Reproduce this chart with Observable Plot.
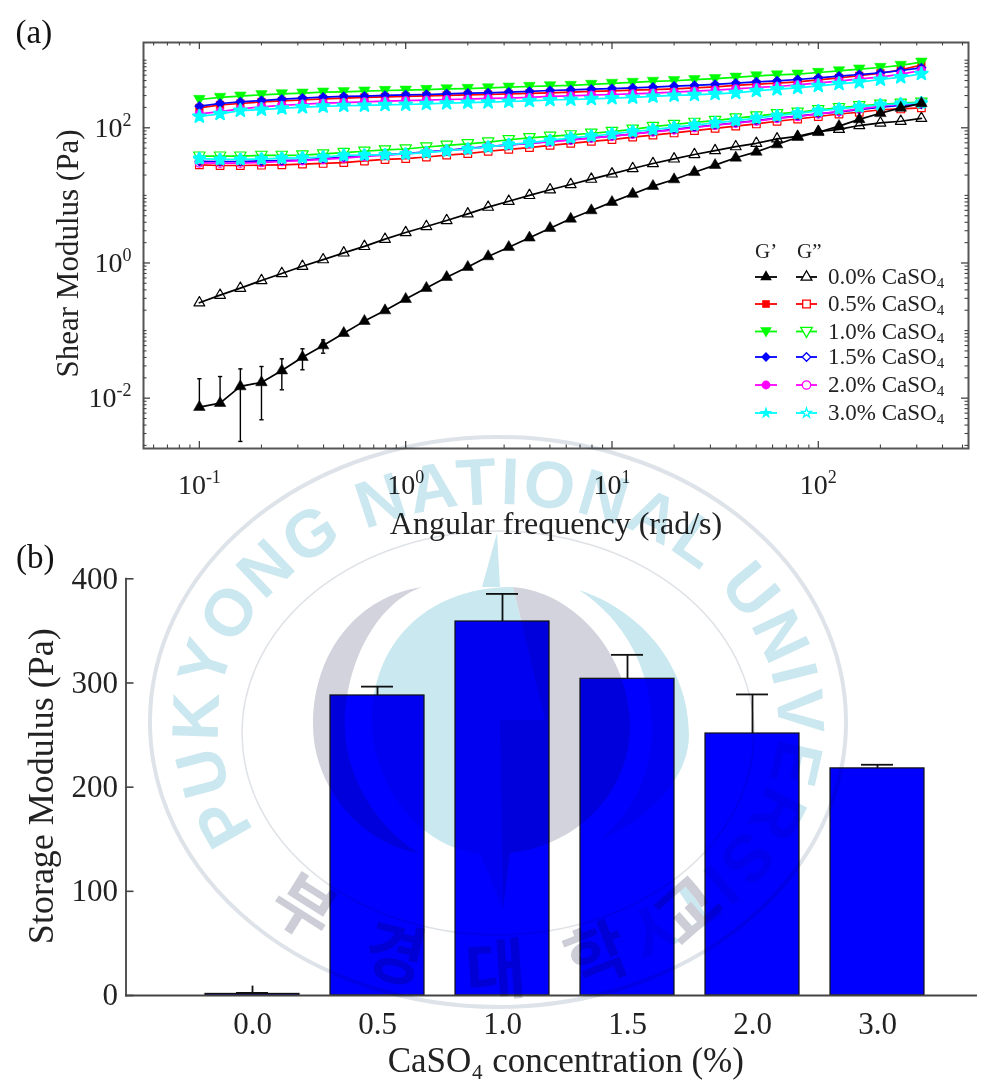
<!DOCTYPE html>
<html>
<head>
<meta charset="utf-8">
<script src="https://cdn.jsdelivr.net/npm/d3@7"></script>
<script src="https://cdn.jsdelivr.net/npm/@observablehq/plot@0.6"></script>
<style>
html,body{margin:0;padding:0;background:#fff;}
#page{position:relative;width:992px;height:1083px;overflow:hidden;font-family:"Liberation Serif",serif;color:#222;}
#page svg{position:absolute;left:0;display:block;background:transparent;}
#watermark{top:0;left:0;mix-blend-mode:multiply;pointer-events:none;}
</style>
</head>
<body>
<div id="page">
<div id="a"></div>
<div id="b"></div>
<svg id="legend" width="992" height="530" style="top:0"></svg>
<svg id="watermark" width="992" height="1083" viewBox="0 0 992 1083">
  <defs>
    <path id="arcTop" d="M255,830 A280,218 0 1 1 640,910"/>
    <path id="arcBottom" d="M184,722 A314,271 0 0 0 812,722"/>
  </defs>
  <ellipse cx="498" cy="722" rx="348" ry="285" fill="none" stroke="#dde3e8" stroke-width="4"/>
  <ellipse cx="498" cy="733" rx="256" ry="202" fill="none" stroke="#dfe2e6" stroke-width="1.5"/>
  <path fill="#c9e8f0" d="M372,720 C372,645 425,587 513,587 L545,720 L500,720 L503,910 L480,853 C425,850 372,790 372,720 Z"/>
  <path fill="#c9e8f0" d="M497,533 L500,587 L482,587 Z"/>
  <path fill="#d2d3dc" d="M423,587 C360,595 313,650 313,725 C313,790 365,845 419,853 C380,830 345,780 345,725 C345,660 380,600 423,587 Z"/>
  <path fill="#d2d3dc" d="M513,587 C575,592 630,655 630,726 C630,790 580,845 510,853 L503,910 L500,720 L545,720 Z"/>
  <path fill="#c9e8f0" d="M579,590 C640,610 689,665 689,735 C689,775 655,815 600,840 C635,810 652,770 652,730 C652,670 625,620 579,590 Z"/>
  <text font-family="Liberation Sans" font-weight="700" font-size="66" letter-spacing="2.5" fill="#cbe7ef">
    <textPath href="#arcTop">PUKYONG NATIONAL UNIVERSITY</textPath>
  </text>
  <text font-family="Noto Sans CJK KR" font-weight="700" font-size="66" fill="#cccdd6" letter-spacing="49" text-anchor="middle">
    <textPath href="#arcBottom" startOffset="52.6%">부경대학교</textPath>
  </text>
</svg>
</div>
<script>
const frequency = [0.1,0.126,0.158,0.2,0.251,0.316,0.398,0.501,0.631,0.794,1,1.26,1.58,2,2.51,3.16,3.98,5.01,6.31,7.94,10,12.6,15.8,20,25.1,31.6,39.8,50.1,63.1,79.4,100,126,158,200,251,316];

const storage00 = [.00737,.00843,.0149,.0171,.0256,.0404,.0601,.0916,.138,.198,.292,.425,.617,.869,1.25,1.71,2.36,3.27,4.5,5.98,7.94,10.5,13.7,17.2,22,28,36,44,56.6,72.6,86,106,133,164,197,230];
const storage05 = [197,218,229,242,250,258,268,275,281,287,291,297,301,308,311,318,322,329,337,345,352,360,368,377,390,404,423,442,457,478,513,548,589,642,720,849];
const storage10 = [262,281,294,308,318,325,337,341,349,356,360,368,377,381,390,399,408,418,423,438,453,469,486,497,515,533,559,586,606,621,658,696,739,780,838,934];
const storage15 = [209,229,242,253,265,275,284,291,294,301,308,311,318,325,329,337,345,356,365,373,381,390,399,414,423,438,457,478,495,518,548,581,614,650,704,771];
const storage20 = [161,174,190,204,214,223,231,236,242,248,253,256,262,265,272,275,281,291,297,304,311,318,325,337,349,360,377,395,408,432,463,491,528,561,621,704];
const storage30 = [147,161,180,186,194,202,207,212,214,219,221,226,231,236,239,245,250,258,262,268,275,281,291,301,308,318,329,352,373,390,418,447,473,518,561,628];

const loss00 = [.258,.334,.424,.55,.70,.895,1.12,1.41,1.76,2.25,2.82,3.47,4.25,5.33,6.7,8.2,10,12.1,14.5,17.4,20.8,25,29.6,34.7,40.3,46,52.6,59,68.6,74.6,88,95,108,118,125,138];
const loss05 = [28.3,27.7,27.7,28,28.3,29,29.7,30.6,32.3,34,35,37,39.5,41.5,45,48,51,55,59,63,67,73,78,84,91,98,106,114,125,135,147,160,170,185,190,197];
const loss10 = [38,38,38,39,39,39.5,41,43,45,47,48.6,52,54.9,58,61.4,66.5,71,74.6,78.5,83,88,95,104,112,120,128,139,149,161,170,185,198,212,223,231,239];
const loss15 = [32,31.7,31.7,32.3,32.7,33.4,34.9,36.5,38.5,40,41.5,44,46.5,49.6,52.6,56,59,63,66.5,71,75.5,81,88,95,102,110,118,128,139,149,161,172,186,202,214,223];
const loss20 = [30.3,30,30,30.6,31.7,32.7,34,35.7,37.7,39.5,41,43.5,46,48.6,52.6,56,59,62,65.6,70.5,75.5,80.5,87,93,101,109,117,126,138,147,161,174,190,209,223,234];
const loss30 = [35,34,34,34.5,35.5,36,37,39,39.5,40,41,43,45.5,48.6,52,56.5,60.5,65,71,75.5,81,88,94,102,110,118,128,139,151,163,178,190,204,218,226,234];

const errorFrequency = [0.1,0.126,0.158,0.2,0.251,0.316,0.398];
const errorLow = [.00737,.00843,.00229,.00479,.0133,.0263,.0463];
const errorHigh = [.0194,.0209,.0271,.0294,.0382,.0537,.0728];

const concentrations = ["0.0","0.5","1.0","1.5","2.0","3.0"];
const modulus = [1.5,288,359,304,251.5,218];
const modulusErrorStem = [9,296.5,385.5,327,289,221.5];
const modulusErrorCap = [2.5,296.5,385.5,327,289,221.5];

const xMajor = [0.1,1,10,100];
const yMajor = [0.01,1,100];
const xLabels = new Map([[0.1,"10^-1"],[1,"10^0"],[10,"10^1"],[100,"10^2"]]);
const yLabels = new Map([[0.01,"10^-2"],[1,"10^0"],[100,"10^2"]]);
const yLinear = [0,100,200,300,400];

const triangleDown = {draw(c,s){const h=Math.sqrt(s*Math.sqrt(3)),w=h/Math.sqrt(3);c.moveTo(-w,-h/2.4);c.lineTo(w,-h/2.4);c.lineTo(0,h/1.7);c.closePath();}};
const capSymbol = {draw(c,s){const w=Math.sqrt(s);c.moveTo(-w,0);c.lineTo(w,0);}};

const series = [
  {name:"0.0", color:"#000000", symbol:"triangle", r:4.3, openR:4.0, g1:storage00, g2:loss00},
  {name:"0.5", color:"#ff0000", symbol:"square", r:4.3, openR:4.3, g1:storage05, g2:loss05},
  {name:"1.0", color:"#00ff00", symbol:triangleDown, r:4.3, openR:4.3, g1:storage10, g2:loss10},
  {name:"1.5", color:"#0000ff", symbol:"diamond2", r:4.4, openR:3.9, g1:storage15, g2:loss15},
  {name:"2.0", color:"#ff00ff", symbol:"circle", r:4.4, openR:4.2, g1:storage20, g2:loss20},
  {name:"3.0", color:"#00ffff", symbol:"star", r:4.0, openR:3.0, g1:storage30, g2:loss30}
];

const xMinor = [], yMinor = [];
for (let e=-2;e<=2;e++) for (let d=1;d<=9;d++){const v=+(d+"e"+e); if(v>0.0536&&v<534&&!xMajor.includes(v)) xMinor.push(v);}
for (let e=-3;e<=3;e++) for (let d=1;d<=9;d++){const v=+(d+"e"+e); if(v>0.0018&&v<1828&&!yMajor.includes(v)) yMinor.push(v);}

const tickColor = "#444";
const W=992, HA=560, mTop=42, mBottom=112, mLeft=143, mRight=24;
const fw=W-mLeft-mRight, fh=HA-mTop-mBottom;
const marksA = [
  Plot.frame({stroke:"#555",strokeWidth:2}),
  Plot.tickX(xMajor,{x:d=>d,insetTop:fh-7,stroke:tickColor,strokeWidth:1.3}),
  Plot.tickX(xMajor,{x:d=>d,insetBottom:fh-7,stroke:tickColor,strokeWidth:1.3}),
  Plot.tickX(xMinor,{x:d=>d,insetTop:fh-3.5,stroke:tickColor,strokeWidth:1.1}),
  Plot.tickX(xMinor,{x:d=>d,insetBottom:fh-3.5,stroke:tickColor,strokeWidth:1.1}),
  Plot.tickY(yMajor,{y:d=>d,insetRight:fw-7,stroke:tickColor,strokeWidth:1.3}),
  Plot.tickY(yMajor,{y:d=>d,insetLeft:fw-7,stroke:tickColor,strokeWidth:1.3}),
  Plot.tickY(yMinor,{y:d=>d,insetRight:fw-3.5,stroke:tickColor,strokeWidth:1.1}),
  Plot.tickY(yMinor,{y:d=>d,insetLeft:fw-3.5,stroke:tickColor,strokeWidth:1.1}),
  Plot.axisX({ticks:xMajor,tickSize:0,tickPadding:26,tickFormat:d=>xLabels.get(d),label:null,fontSize:28,fill:"#222"}),
  Plot.axisY({ticks:yMajor,tickSize:0,tickPadding:12,tickFormat:d=>yLabels.get(d),label:null,fontSize:28,fill:"#222"}),
  Plot.ruleX(errorFrequency.map((f,i)=>i),{x:i=>errorFrequency[i],y1:i=>errorLow[i],y2:i=>errorHigh[i],stroke:"#000",strokeWidth:1.4}),
  Plot.dot(errorFrequency,{x:d=>d,y:(d,i)=>errorHigh[i],symbol:capSymbol,r:1.2,stroke:"#000",strokeWidth:1.4}),
  Plot.dot(errorFrequency.slice(2),{x:d=>d,y:(d,i)=>errorLow[i+2],symbol:capSymbol,r:1.2,stroke:"#000",strokeWidth:1.4})
];
for (const s of series){
  const g2=frequency.map((f,i)=>({f,v:s.g2[i]}));
  const blob=s.name==="3.0";
  marksA.push(Plot.line(g2,{x:"f",y:"v",stroke:s.color,strokeWidth:1.7}));
  marksA.push(Plot.dot(g2,{x:"f",y:"v",symbol:s.symbol,r:s.openR,stroke:s.color,strokeWidth:blob?3.5:1.2,strokeLinejoin:"round",fill:blob?s.color:"none"}));
}
for (const s of series){
  const g1=frequency.map((f,i)=>({f,v:s.g1[i]}));
  const blob=s.name==="3.0";
  marksA.push(Plot.line(g1,{x:"f",y:"v",stroke:s.color,strokeWidth:1.7}));
  marksA.push(Plot.dot(g1,{x:"f",y:"v",symbol:s.symbol,r:s.r,fill:s.color,stroke:s.color,strokeWidth:blob?2:0.5,strokeLinejoin:"round"}));
}
marksA.push(
  Plot.text(["Angular frequency (rad/s)"],{frameAnchor:"bottom",dy:85,fontSize:32,fill:"#222",lineAnchor:"bottom"}),
  Plot.text(["Shear Modulus (Pa)"],{frameAnchor:"left",textAnchor:"middle",lineAnchor:"middle",rotate:-90,dx:-75,dy:8,fontSize:31,fill:"#222"}),
  Plot.text(["(a)"],{frameAnchor:"top-left",dx:-128,dy:-23,fontSize:33,fill:"#111",textAnchor:"start",lineAnchor:"top"})
);
const plotA = Plot.plot({
  width:W,height:HA,marginTop:mTop,marginBottom:mBottom,marginLeft:mLeft,marginRight:mRight,
  style:{fontFamily:'"Liberation Serif",serif',background:"transparent",overflow:"visible"},
  x:{type:"log",domain:[0.0536,534.6],axis:null},
  y:{type:"log",domain:[0.0018,1828],axis:null},
  marks:marksA
});
plotA.style.top="0px";
// typeset powers of ten as real superscripts
d3.select(plotA).selectAll("text").each(function(){
  const t=this.textContent;
  if(!t.includes("^")) return;
  const [base,power]=t.split("^");
  const sel=d3.select(this);
  sel.selectAll("*").remove();
  sel.text(null);
  sel.append("tspan").text(base);
  sel.append("tspan").text(power).attr("font-size",18).attr("dy",-11);
});
document.getElementById("a").append(plotA);

const HB=553, bTop=48.3, bBottom=88, bLeft=125.5, bRight=15;
const bw=W-bLeft-bRight;
const barData = concentrations.map((c,i)=>({c,v:modulus[i],stem:modulusErrorStem[i],cap:modulusErrorCap[i]}));
const plotB = Plot.plot({
  width:W,height:HB,marginTop:bTop,marginBottom:bBottom,marginLeft:bLeft,marginRight:bRight,
  style:{fontFamily:'"Liberation Serif",serif',background:"transparent",overflow:"visible"},
  x:{type:"band",domain:concentrations,paddingInner:0.245,paddingOuter:0.51,align:0.6,axis:null},
  y:{domain:[0,400],axis:null},
  marks:[
    Plot.barY(barData,{x:"c",y:"v",fill:"#0000ff",stroke:"#111",strokeWidth:1.2}),
    Plot.ruleX(barData,{x:"c",y1:"v",y2:"stem",stroke:"#111",strokeWidth:1.8}),
    Plot.tickY(barData,{x:"c",y:"cap",insetLeft:31,insetRight:31,stroke:"#111",strokeWidth:1.8}),
    Plot.frame({anchor:"left",stroke:"#555",strokeWidth:2}),
    Plot.ruleY([0],{stroke:"#444",strokeWidth:2}),
    Plot.tickY(yLinear,{y:d=>d,insetRight:bw-8,stroke:"#444",strokeWidth:1.6}),
    Plot.axisY({ticks:yLinear,tickSize:0,tickPadding:8,label:null,fontSize:31,fill:"#222"}),
    Plot.axisX({tickSize:0,tickPadding:16,label:null,fontSize:31,fill:"#222"}),
    Plot.text(["CaSO₄ concentration (%)"],{frameAnchor:"bottom",dx:14,dy:76,fontSize:35,fill:"#222",lineAnchor:"bottom"}),
    Plot.text(["Storage Modulus (Pa)"],{frameAnchor:"left",textAnchor:"middle",lineAnchor:"middle",rotate:-90,dx:-85,dy:-1,fontSize:36,fill:"#222"}),
    Plot.text(["(b)"],{frameAnchor:"top-left",dx:-110,dy:-34,fontSize:33,fill:"#111",textAnchor:"start",lineAnchor:"top"})
  ]
});
plotB.style.top="530px";
document.getElementById("b").append(plotB);

// legend inset in panel (a)
const lg = d3.select("#legend");
const symType = {triangle:d3.symbolTriangle,square:d3.symbolSquare,diamond2:d3.symbolDiamond2,circle:d3.symbolCircle,star:d3.symbolStar};
lg.append("text").text("G’").attr("x",755).attr("y",258).attr("font-size",21).attr("fill","#222").attr("font-family","Liberation Serif");
lg.append("text").text("G”").attr("x",797).attr("y",258).attr("font-size",21).attr("fill","#222").attr("font-family","Liberation Serif");
const rowY = [277,304,331.5,357,385,413];
series.forEach((s,i)=>{
  const y=rowY[i];
  const type=typeof s.symbol==="string"?symType[s.symbol]:s.symbol;
  const area=r=>Math.PI*r*r;
  lg.append("line").attr("x1",755).attr("x2",777).attr("y1",y).attr("y2",y).attr("stroke",s.color).attr("stroke-width",1.8);
  lg.append("path").attr("d",d3.symbol(type,area(s.r))()).attr("transform",`translate(766,${y})`).attr("fill",s.color);
  lg.append("line").attr("x1",796).attr("x2",817).attr("y1",y).attr("y2",y).attr("stroke",s.color).attr("stroke-width",1.8);
  lg.append("path").attr("d",d3.symbol(type,area(s.openR))()).attr("transform",`translate(806.5,${y})`).attr("fill","#fff").attr("stroke",s.color).attr("stroke-width",1.3);
  const t=lg.append("text").attr("x",828).attr("y",y+7).attr("font-size",23).attr("fill","#222").attr("font-family","Liberation Serif");
  t.append("tspan").text(s.name+"% CaSO");
  t.append("tspan").text("4").attr("font-size",15).attr("dy",4);
});
</script>
</body>
</html>
